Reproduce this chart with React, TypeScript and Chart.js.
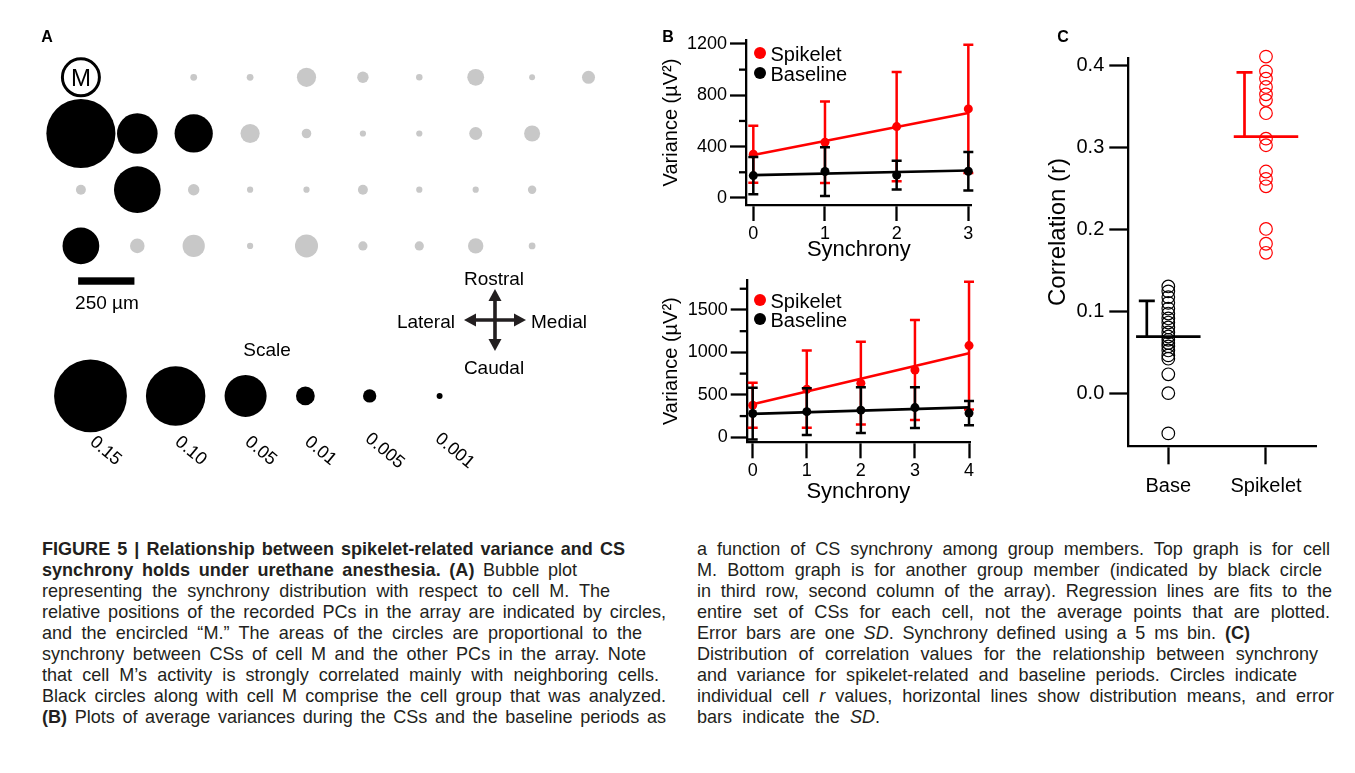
import React, { useEffect, useLayoutEffect, useRef } from 'react';
import { Chart, registerables } from 'chart.js';

Chart.register(...registerables);

const FONT = "'Liberation Sans', Arial, Helvetica, sans-serif";
const RED = '#ff0000';
const GRAY = '#c8c8c8';

// ---------------- Panel A: synchrony bubble array ----------------
const arrayCols = [0, 1, 2, 3, 4, 5, 6, 7, 8, 9];
const arrayRows = [0, 1, 2, 3];
const synchronyRow0 = [null, null, 0.0013, 0.0013, 0.0104, 0.0037, 0.0012, 0.008, 0.001, 0.0048];
const synchronyRow1 = [0.135, 0.0466, 0.0414, 0.0104, 0.0026, 0.0011, 0.0011, 0.0048, 0.0073, null];
const synchronyRow2 = [0.0028, 0.0616, 0.0037, 0.0011, 0.0011, 0.0028, 0.0011, 0.0011, 0.002, null];
const synchronyRow3 = [0.0382, 0.006, 0.014, 0.0011, 0.015, 0.0024, 0.0024, 0.0067, 0.0013, null];
const groupRow0 = [0, 0, 0, 0, 0, 0, 0, 0, 0, 0];
const groupRow1 = [1, 1, 1, 0, 0, 0, 0, 0, 0, 0];
const groupRow2 = [0, 1, 0, 0, 0, 0, 0, 0, 0, 0];
const groupRow3 = [1, 0, 0, 0, 0, 0, 0, 0, 0, 0];
const cellMCol = 0;
const cellMRow = 0;
const scaleValues = [0.15, 0.1, 0.05, 0.01, 0.005, 0.001];
const scaleLabels = ['0.15', '0.10', '0.05', '0.01', '0.005', '0.001'];
const scaleCols = [0.17, 1.68, 2.92, 3.98, 5.12, 6.36];
const scaleRow = 5.67;
const scaleBarCols = [-0.049, 0.949]; // 250 µm = one array spacing
const scaleBarRow = 3.625;
const compassCol = 7.342;
const compassRow = 4.318;

// ---------------- Panel B: variance vs synchrony ----------------
const synchronyTop = [0, 1, 2, 3];
const spikeletTopMean = [341, 434, 556, 694];
const spikeletTopSD = [222, 317, 426, 500];
const baselineTopMean = [174, 206, 178, 208];
const baselineTopSD = [145, 190, 112, 150];
const spikeletTopFit = [335, 662];
const baselineTopFit = [178, 214];
const varianceTicksTop = [0, 400, 800, 1200];
const varianceMinorTop = [200, 600, 1000];

const synchronyBottom = [0, 1, 2, 3, 4];
const spikeletBottomMean = [378, 566, 638, 793, 1080];
const spikeletBottomSD = [265, 455, 487, 590, 752];
const baselineBottomMean = [280, 302, 320, 350, 285];
const baselineBottomSD = [305, 275, 270, 240, 143];
const spikeletBottomFit = [389, 990];
const baselineBottomFit = [275, 352];
const varianceTicksBottom = [0, 500, 1000, 1500];
const varianceMinorBottom = [250, 750, 1250, 1750];

// ---------------- Panel C: correlation values ----------------
const groupLabels = ['Base', 'Spikelet'];
const baseR = [0.131, 0.125, 0.118, 0.111, 0.104, 0.098, 0.092, 0.087, 0.081, 0.075, 0.07, 0.066, 0.062, 0.058, 0.053, 0.047, 0.043, 0.024, 0.001, -0.048];
const spikeletR = [0.411, 0.393, 0.384, 0.374, 0.365, 0.358, 0.342, 0.311, 0.303, 0.271, 0.262, 0.253, 0.201, 0.183, 0.172];
const baseMean = 0.0698;
const baseSD = 0.0436;
const spikeletMean = 0.3134;
const spikeletSD = 0.0784;
const correlationTicks = [0, 0.1, 0.2, 0.3, 0.4];

const AREA_K = 94; // px radius per sqrt(synchrony)
const radiusFor = (v: number) => AREA_K * Math.sqrt(v);

Chart.defaults.font.family = FONT;
Chart.defaults.color = '#000';

// ---------------- plugins ----------------
const arrayDecorPlugin = {
  id: 'arrayDecor',
  afterDatasetsDraw(chart: any) {
    const { ctx } = chart;
    const xs = chart.scales.x;
    const ys = chart.scales.y;
    ctx.save();
    // scale bar
    const x0 = xs.getPixelForValue(scaleBarCols[0]);
    const x1 = xs.getPixelForValue(scaleBarCols[1]);
    const yb = ys.getPixelForValue(scaleBarRow);
    ctx.fillStyle = '#000';
    ctx.fillRect(x0, yb - 3.7, x1 - x0, 7.4);
    // compass
    const cx = xs.getPixelForValue(compassCol);
    const cy = ys.getPixelForValue(compassRow);
    const arm = 31;
    const head = 12;
    const hw = 6.5;
    ctx.strokeStyle = '#231f20';
    ctx.fillStyle = '#231f20';
    ctx.lineWidth = 3.6;
    ctx.beginPath();
    ctx.moveTo(cx - arm + head - 1, cy);
    ctx.lineTo(cx + arm - head + 1, cy);
    ctx.moveTo(cx, cy - arm + head - 1);
    ctx.lineTo(cx, cy + arm - head + 1);
    ctx.stroke();
    const dirs = [[1, 0], [-1, 0], [0, 1], [0, -1]];
    dirs.forEach(([dx, dy]) => {
      const tx = cx + dx * arm;
      const ty = cy + dy * arm;
      const bx = cx + dx * (arm - head);
      const by = cy + dy * (arm - head);
      ctx.beginPath();
      ctx.moveTo(tx, ty);
      ctx.lineTo(bx + dy * hw, by + dx * hw);
      ctx.lineTo(bx - dy * hw, by - dx * hw);
      ctx.closePath();
      ctx.fill();
    });
    // scale labels (rotated)
    ctx.fillStyle = '#000';
    ctx.font = `18px ${FONT}`;
    ctx.textAlign = 'center';
    ctx.textBaseline = 'middle';
    const ly = ys.getPixelForValue(scaleRow) + 55;
    scaleLabels.forEach((lab, i) => {
      const lx = xs.getPixelForValue(scaleCols[i]) + 15;
      ctx.save();
      ctx.translate(lx, ly);
      ctx.rotate((40 * Math.PI) / 180);
      ctx.fillText(lab, 0, 0);
      ctx.restore();
    });
    ctx.restore();
  },
};

const errorBarPlugin = {
  id: 'errorBars',
  beforeDatasetDraw(chart: any, args: any) {
    const ds: any = chart.data.datasets[args.index];
    if (!ds.errorBars) return;
    const { ctx } = chart;
    const xs = chart.scales.x;
    const ys = chart.scales.y;
    ctx.save();
    ctx.strokeStyle = ds.borderColor;
    ctx.lineWidth = 2.5;
    ds.data.forEach((pt: any, i: number) => {
      const sd = ds.errorBars[i];
      const px = xs.getPixelForValue(pt.x);
      const top = ys.getPixelForValue(pt.y + sd);
      const bot = ys.getPixelForValue(pt.y - sd);
      ctx.beginPath();
      ctx.moveTo(px, top);
      ctx.lineTo(px, bot);
      ctx.moveTo(px - 5, top);
      ctx.lineTo(px + 5, top);
      ctx.moveTo(px - 5, bot);
      ctx.lineTo(px + 5, bot);
      ctx.stroke();
    });
    ctx.restore();
  },
};

const minorTickPlugin = {
  id: 'minorTicks',
  afterDraw(chart: any, _a: any, opts: any) {
    const values: number[] = (opts && opts.values) || [];
    const { ctx, chartArea } = chart;
    const ys = chart.scales.y;
    ctx.save();
    ctx.strokeStyle = '#000';
    ctx.lineWidth = 2.3;
    values.forEach((v) => {
      const py = ys.getPixelForValue(v);
      ctx.beginPath();
      ctx.moveTo(chartArea.left - 7, py);
      ctx.lineTo(chartArea.left, py);
      ctx.stroke();
    });
    ctx.restore();
  },
};

const summaryPlugin = {
  id: 'summaryBars',
  afterDatasetsDraw(chart: any) {
    const { ctx } = chart;
    const xs = chart.scales.x;
    const ys = chart.scales.y;
    chart.data.datasets.forEach((ds: any) => {
      if (!ds.summary) return;
      const { at, mean, sd } = ds.summary;
      const ym = ys.getPixelForValue(mean);
      const yt = ys.getPixelForValue(mean + sd);
      const xb = xs.getPixelForValue(at - 0.22);
      ctx.save();
      ctx.strokeStyle = ds.borderColor;
      ctx.lineWidth = 2.7;
      ctx.beginPath();
      ctx.moveTo(xs.getPixelForValue(at - 0.33), ym);
      ctx.lineTo(xs.getPixelForValue(at + 0.33), ym);
      ctx.moveTo(xb, ym);
      ctx.lineTo(xb, yt);
      ctx.moveTo(xb - 8, yt);
      ctx.lineTo(xb + 8, yt);
      ctx.stroke();
      ctx.restore();
    });
  },
};

// ---------------- configs ----------------
function arrayConfig(): any {
  const rows = [synchronyRow0, synchronyRow1, synchronyRow2, synchronyRow3];
  const groups = [groupRow0, groupRow1, groupRow2, groupRow3];
  const gray: any[] = [];
  const black: any[] = [];
  arrayRows.forEach((r) => {
    arrayCols.forEach((c) => {
      const v = rows[r][c];
      if (v == null) return;
      const pt = { x: c, y: r, r: radiusFor(v) };
      if (groups[r][c]) black.push(pt);
      else gray.push(pt);
    });
  });
  const scalePts = scaleValues.map((v, i) => ({ x: scaleCols[i], y: scaleRow, r: radiusFor(v) }));
  return {
    type: 'bubble',
    data: {
      datasets: [
        { data: [{ x: cellMCol, y: cellMRow, r: 18.5 }], backgroundColor: '#fff', borderColor: '#000', borderWidth: 3, clip: false },
        { data: black, backgroundColor: '#000', borderWidth: 0, clip: false },
        { data: gray, backgroundColor: GRAY, borderWidth: 0, clip: false },
        { data: scalePts, backgroundColor: '#000', borderWidth: 0, clip: false },
      ],
    },
    options: {
      animation: false,
      responsive: false,
      devicePixelRatio: 1,
      layout: { padding: 0, autoPadding: false },
      plugins: { legend: { display: false }, tooltip: { enabled: false } },
      events: [],
      scales: {
        x: { type: 'linear', display: false, min: -1.4344, max: 9.9131 },
        y: { type: 'linear', display: false, min: -1.3754, max: 7.5214, reverse: true },
      },
    },
    plugins: [arrayDecorPlugin],
  };
}

function axisCommon(tickLen: number) {
  return {
    grid: { drawOnChartArea: false, drawTicks: true, tickLength: tickLen, tickColor: '#000', tickWidth: 2.3 },
    border: { display: true, color: '#000', width: 2.3 },
  };
}

function varianceConfig(p: any): any {
  const pts = (xs: number[], ys: number[]) => xs.map((x, i) => ({ x, y: ys[i] }));
  const last = p.x[p.x.length - 1];
  return {
    type: 'scatter',
    data: {
      datasets: [
        { data: pts(p.x, p.baseMean), errorBars: p.baseSD, backgroundColor: '#000', borderColor: '#000', pointRadius: 4.5, pointBorderWidth: 0, clip: false },
        { data: [{ x: 0, y: p.baseFit[0] }, { x: last, y: p.baseFit[1] }], showLine: true, borderColor: '#000', borderWidth: 2.7, pointRadius: 0, clip: false },
        { data: pts(p.x, p.spkMean), errorBars: p.spkSD, backgroundColor: RED, borderColor: RED, pointRadius: 4.5, pointBorderWidth: 0, clip: false },
        { data: [{ x: 0, y: p.spkFit[0] }, { x: last, y: p.spkFit[1] }], showLine: true, borderColor: RED, borderWidth: 2.7, pointRadius: 0, clip: false },
      ],
    },
    options: {
      animation: false,
      responsive: false,
      devicePixelRatio: 1,
      events: [],
      layout: { padding: { top: p.padTop, right: p.padRight, left: 0, bottom: 0 }, autoPadding: false },
      plugins: { legend: { display: false }, tooltip: { enabled: false }, minorTicks: { values: p.minor } },
      scales: {
        x: {
          type: 'linear',
          min: p.xMin,
          max: p.xMax,
          ...axisCommon(16),
          afterBuildTicks: (s: any) => { s.ticks = p.x.map((v: number) => ({ value: v })); },
          afterFit: (s: any) => { s.height = p.xAxisHeight; },
          ticks: { font: { size: 18, family: FONT }, color: '#000', padding: 2, maxRotation: 0, callback: (v: any) => String(v) },
          title: { display: true, text: 'Synchrony', font: { size: 22, family: FONT }, color: '#000', padding: { top: 0, bottom: p.xTitlePad } },
        },
        y: {
          type: 'linear',
          min: p.yMin,
          max: p.yMax,
          ...axisCommon(16),
          afterBuildTicks: (s: any) => { s.ticks = p.yTicks.map((v: number) => ({ value: v })); },
          afterFit: (s: any) => { s.width = p.yAxisWidth; },
          ticks: { font: { size: 18, family: FONT }, color: '#000', padding: 3, callback: (v: any) => String(v) },
          title: { display: true, text: 'Variance (µV²)', font: { size: 20, family: FONT }, color: '#000', padding: { top: 9.3, bottom: 0 } },
        },
      },
    },
    plugins: [errorBarPlugin, minorTickPlugin],
  };
}

function correlationConfig(): any {
  return {
    type: 'scatter',
    data: {
      datasets: [
        { data: baseR.map((y) => ({ x: 0, y })), summary: { at: 0, mean: baseMean, sd: baseSD }, backgroundColor: 'rgba(0,0,0,0)', borderColor: '#000', pointRadius: 6.3, pointBorderWidth: 1.2, clip: false },
        { data: spikeletR.map((y) => ({ x: 1, y })), summary: { at: 1, mean: spikeletMean, sd: spikeletSD }, backgroundColor: 'rgba(0,0,0,0)', borderColor: RED, pointRadius: 6.3, pointBorderWidth: 1.2, clip: false },
      ],
    },
    options: {
      animation: false,
      responsive: false,
      devicePixelRatio: 1,
      events: [],
      layout: { padding: { top: 33.3, right: 38.3, left: 0, bottom: 0 }, autoPadding: false },
      plugins: { legend: { display: false }, tooltip: { enabled: false } },
      scales: {
        x: {
          type: 'linear',
          min: -0.4156,
          max: 1.519,
          ...axisCommon(18.6),
          afterBuildTicks: (s: any) => { s.ticks = groupLabels.map((_, i) => ({ value: i })); },
          afterFit: (s: any) => { s.height = 64.3; },
          ticks: { font: { size: 20, family: FONT }, color: '#000', padding: 10, maxRotation: 0, callback: (v: any) => groupLabels[v] ?? '' },
        },
        y: {
          type: 'linear',
          min: -0.063,
          max: 0.4089,
          ...axisCommon(18.4),
          afterBuildTicks: (s: any) => { s.ticks = correlationTicks.map((v) => ({ value: v })); },
          afterFit: (s: any) => { s.width = 97.7; },
          ticks: { font: { size: 20, family: FONT }, color: '#000', padding: 5, callback: (v: any) => Number(v).toFixed(1) },
          title: { display: true, text: '\u00A0\u00A0\u00A0\u00A0\u00A0\u00A0Correlation (r)', font: { size: 24, family: FONT }, color: '#000', padding: { top: 13.6, bottom: 0 } },
        },
      },
    },
    plugins: [summaryPlugin],
  };
}

const topCfg = {
  x: synchronyTop, spkMean: spikeletTopMean, spkSD: spikeletTopSD, baseMean: baselineTopMean, baseSD: baselineTopSD,
  spkFit: spikeletTopFit, baseFit: baselineTopFit, yTicks: varianceTicksTop, minor: varianceMinorTop,
  xMin: -0.102, xMax: 3.047, yMin: -55, yMax: 1231, padTop: 15, padRight: 28.3, yAxisWidth: 96, xAxisHeight: 65, xTitlePad: 7,
};
const bottomCfg = {
  x: synchronyBottom, spkMean: spikeletBottomMean, spkSD: spikeletBottomSD, baseMean: baselineBottomMean, baseSD: baselineBottomSD,
  spkFit: spikeletBottomFit, baseFit: baselineBottomFit, yTicks: varianceTicksBottom, minor: varianceMinorBottom,
  xMin: -0.111, xMax: 4.018, yMin: -59, yMax: 1853, padTop: 15, padRight: 30, yAxisWidth: 96.7, xAxisHeight: 67.7, xTitlePad: 5.1,
};

// ---------------- text helpers ----------------
function Txt(props: any) {
  const { x, y, size = 19, bold = false, align = 'center', children } = props;
  const tx = align === 'center' ? '-50%' : align === 'right' ? '-100%' : '0';
  return (
    <div style={{ position: 'absolute', left: x, top: y, transform: `translate(${tx}, -50%)`, fontSize: size, fontWeight: bold ? 700 : 400, lineHeight: 1, whiteSpace: 'nowrap', color: '#000', fontFamily: FONT }}>
      {children}
    </div>
  );
}

function Dot({ x, y, r, color }: any) {
  return <div style={{ position: 'absolute', left: x - r, top: y - r, width: 2 * r, height: 2 * r, borderRadius: '50%', background: color }} />;
}

type Part = { t: string; b?: boolean; i?: boolean };

const CAPTION_SIZE = 19;
const CAPTION_SQUEEZE = 0.95;

function CaptionLine({ parts, x, y, end }: { parts: Part[]; x: number; y: number; end: number }) {
  const ref = useRef<HTMLSpanElement>(null);
  useLayoutEffect(() => {
    const el = ref.current;
    if (!el) return;
    const fit = () => {
      el.style.wordSpacing = '0px';
      el.style.transform = 'none';
      const w = el.getBoundingClientRect().width;
      const target = end - x;
      const spaces = ((el.textContent || '').match(/ /g) || []).length;
      const need = target / w;
      if (need >= CAPTION_SQUEEZE && spaces > 0) {
        el.style.transform = `scaleX(${CAPTION_SQUEEZE})`;
        el.style.wordSpacing = `${(target / CAPTION_SQUEEZE - w) / spaces}px`;
      } else {
        el.style.transform = `scaleX(${need})`;
      }
    };
    fit();
    const f: any = (document as any).fonts;
    if (f && f.ready) f.ready.then(fit);
  }, []);
  return (
    <span ref={ref} style={{ position: 'absolute', left: x, top: y - 10.5, lineHeight: '21px', height: 21, whiteSpace: 'pre', display: 'inline-block', transformOrigin: '0 50%', fontSize: CAPTION_SIZE, fontFamily: FONT, color: '#231f20' }}>
      {parts.map((p, k) => (
        <span key={k} style={{ fontWeight: p.b ? 700 : 400, fontStyle: p.i ? 'italic' : 'normal' }}>{p.t}</span>
      ))}
    </span>
  );
}

const captionLeft: { parts: Part[]; end: number }[] = [
  { parts: [{ t: 'FIGURE 5 | Relationship between spikelet-related variance and CS', b: true }], end: 625 },
  { parts: [{ t: 'synchrony holds under urethane anesthesia.', b: true }, { t: ' ' }, { t: '(A)', b: true }, { t: ' Bubble plot' }], end: 577 },
  { parts: [{ t: 'representing the synchrony distribution with respect to cell M. The' }], end: 610 },
  { parts: [{ t: 'relative positions of the recorded PCs in the array are indicated by circles,' }], end: 666 },
  { parts: [{ t: 'and the encircled “M.” The areas of the circles are proportional to the' }], end: 642 },
  { parts: [{ t: 'synchrony between CSs of cell M and the other PCs in the array. Note' }], end: 646 },
  { parts: [{ t: 'that cell M’s activity is strongly correlated mainly with neighboring cells.' }], end: 659 },
  { parts: [{ t: 'Black circles along with cell M comprise the cell group that was analyzed.' }], end: 666 },
  { parts: [{ t: '(B)', b: true }, { t: ' Plots of average variances during the CSs and the baseline periods as' }], end: 666 },
];
const captionRight: { parts: Part[]; end: number }[] = [
  { parts: [{ t: 'a function of CS synchrony among group members. Top graph is for cell' }], end: 1330 },
  { parts: [{ t: 'M. Bottom graph is for another group member (indicated by black circle' }], end: 1322 },
  { parts: [{ t: 'in third row, second column of the array). Regression lines are fits to the' }], end: 1332 },
  { parts: [{ t: 'entire set of CSs for each cell, not the average points that are plotted.' }], end: 1330 },
  { parts: [{ t: 'Error bars are one ' }, { t: 'SD', i: true }, { t: '. Synchrony defined using a 5 ms bin. ' }, { t: '(C)', b: true }], end: 1250 },
  { parts: [{ t: 'Distribution of correlation values for the relationship between synchrony' }], end: 1318 },
  { parts: [{ t: 'and variance for spikelet-related and baseline periods. Circles indicate' }], end: 1297 },
  { parts: [{ t: 'individual cell ' }, { t: 'r', i: true }, { t: ' values, horizontal lines show distribution means, and error' }], end: 1334 },
  { parts: [{ t: 'bars indicate the ' }, { t: 'SD', i: true }, { t: '.' }], end: 880 },
];

export default function App() {
  const aRef = useRef<HTMLCanvasElement>(null);
  const bTopRef = useRef<HTMLCanvasElement>(null);
  const bBotRef = useRef<HTMLCanvasElement>(null);
  const cRef = useRef<HTMLCanvasElement>(null);

  useEffect(() => {
    const charts = [
      new Chart(aRef.current as HTMLCanvasElement, arrayConfig()),
      new Chart(bTopRef.current as HTMLCanvasElement, varianceConfig(topCfg)),
      new Chart(bBotRef.current as HTMLCanvasElement, varianceConfig(bottomCfg)),
      new Chart(cRef.current as HTMLCanvasElement, correlationConfig()),
    ];
    return () => charts.forEach((c) => c.destroy());
  }, []);

  const cv = (left: number, top: number, w: number, h: number) => ({ position: 'absolute' as const, left, top, width: w, height: h });

  return (
    <div style={{ position: 'absolute', left: 0, top: 0, width: 1355, height: 773, background: '#fff', overflow: 'hidden', fontFamily: FONT }}>
      <canvas ref={aRef} width={640} height={500} style={cv(0, 0, 640, 500)} />
      <canvas ref={bTopRef} width={350} height={245} style={cv(650, 25, 350, 245)} />
      <canvas ref={bBotRef} width={350} height={245} style={cv(650, 265, 350, 245)} />
      <canvas ref={cRef} width={325} height={485} style={cv(1030, 25, 325, 485)} />

      <Txt x={47} y={37} size={16} bold>A</Txt>
      <Txt x={668} y={37} size={16} bold>B</Txt>
      <Txt x={1063} y={37} size={16} bold>C</Txt>

      <Txt x={80.9} y={77.8} size={24}>M</Txt>
      <Txt x={107} y={302} size={19}>250 µm</Txt>
      <Txt x={494} y={278} size={19}>Rostral</Txt>
      <Txt x={455} y={321} size={19} align="right">Lateral</Txt>
      <Txt x={531} y={321} size={19} align="left">Medial</Txt>
      <Txt x={494} y={367} size={19}>Caudal</Txt>
      <Txt x={267} y={349} size={19}>Scale</Txt>

      <Dot x={760} y={53.3} r={6} color={RED} />
      <Txt x={770.5} y={53.8} size={20} align="left">Spikelet</Txt>
      <Dot x={760} y={73.3} r={6} color="#000" />
      <Txt x={770.5} y={73.8} size={20} align="left">Baseline</Txt>
      <Dot x={760} y={300} r={6} color={RED} />
      <Txt x={770.5} y={300.5} size={20} align="left">Spikelet</Txt>
      <Dot x={760} y={319.3} r={6} color="#000" />
      <Txt x={770.5} y={319.8} size={20} align="left">Baseline</Txt>

      {captionLeft.map((l, i) => (
        <CaptionLine key={'l' + i} parts={l.parts} x={42} y={548 + 21 * i} end={l.end} />
      ))}
      {captionRight.map((l, i) => (
        <CaptionLine key={'r' + i} parts={l.parts} x={697} y={548 + 21 * i} end={l.end} />
      ))}
    </div>
  );
}
